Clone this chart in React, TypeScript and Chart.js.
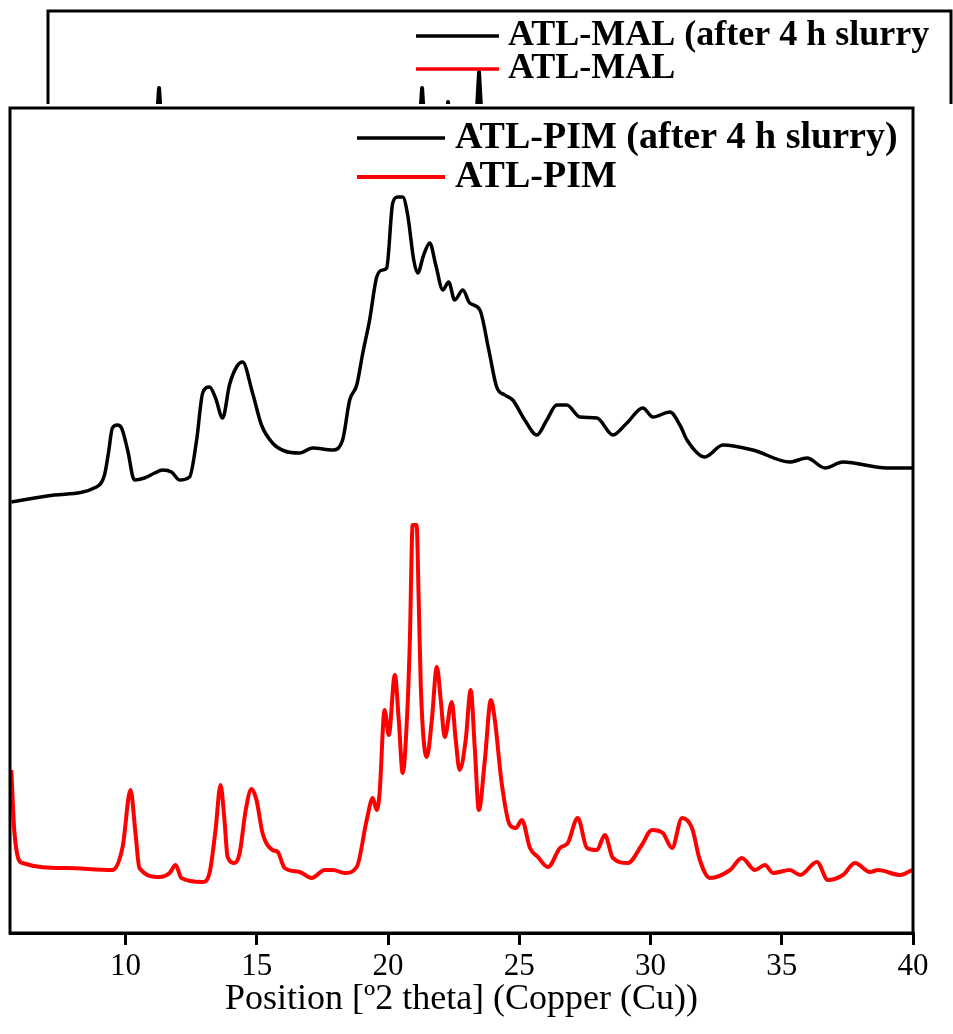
import React, { useEffect, useRef } from "react";
import { Chart, registerables } from "chart.js";

Chart.register(...registerables);

const SERIF = '"Liberation Serif", "Times New Roman", serif';

// x axis (2 theta, degrees)
const X_MIN = 5.6;
const X_MAX = 40;
const TICK_VALUES = [10, 15, 20, 25, 30, 35, 40];
const X_TITLE = "Position [º2 theta] (Copper (Cu))";

// Front panel: ATL-PIM (after 4 h slurry)
const PIM_SLURRY_THETA = [
  5.65, 7.29, 8.89, 9.2, 9.35, 9.5, 9.69, 9.85, 10.08, 10.34,
  10.72, 11.11, 11.41, 11.75, 12.06, 12.44, 12.71, 12.94, 13.2, 13.43,
  13.7, 13.96, 14.23, 14.46, 14.84, 15.18, 15.6, 16.06, 16.63, 17.13,
  17.89, 18.27, 18.54, 18.81, 19.04, 19.3, 19.57, 19.8, 19.95, 20.18,
  20.37, 20.56, 20.75, 20.98, 21.13, 21.36, 21.59, 21.82, 22.09, 22.31,
  22.54, 22.85, 23.11, 23.5, 23.84, 24.14, 24.45, 24.75, 25.21, 25.67,
  26.05, 26.43, 26.81, 27.31, 27.96, 28.57, 29.1, 29.71, 30.09, 30.74,
  31.12, 31.39, 32.07, 32.76, 33.9, 35.31, 35.96, 36.65, 37.33, 39.01,
  40.0,
];
const PIM_SLURRY_INTENSITY = [
  431, 438, 446, 458, 480, 505, 508, 505, 483, 453,
  455, 460, 463, 461, 453, 456, 493, 540, 546, 535,
  515, 548, 566, 571, 540, 508, 490, 482, 480, 485,
  483, 493, 533, 548, 580, 613, 656, 663, 665, 730,
  736, 736, 718, 673, 660, 678, 690, 668, 643, 651,
  633, 643, 630, 623, 583, 546, 538, 533, 513, 498,
  513, 528, 528, 516, 515, 498, 510, 525, 516, 521,
  508, 493, 476, 488, 483, 471, 475, 465, 471, 465,
  465,
];

// Front panel: ATL-PIM
const PIM_THETA = [
  5.65, 5.77, 6.07, 7.75, 9.5, 9.89, 10.19, 10.38, 10.53, 11.3,
  11.68, 11.91, 12.13, 12.94, 13.2, 13.43, 13.62, 13.77, 13.89, 14.16,
  14.35, 14.58, 14.8, 14.99, 15.22, 15.6, 15.8, 16.06, 16.63, 17.09,
  17.59, 17.9, 18.35, 18.81, 19.19, 19.42, 19.57, 19.68, 19.87, 20.03,
  20.26, 20.41, 20.56, 20.72, 20.83, 20.94, 21.09, 21.17, 21.25, 21.48,
  21.67, 21.86, 22.01, 22.16, 22.43, 22.58, 22.73, 22.96, 23.15, 23.31,
  23.46, 23.69, 23.92, 24.07, 24.33, 24.64, 24.87, 25.1, 25.41, 25.71,
  26.09, 26.55, 26.85, 27.23, 27.58, 27.96, 28.26, 28.57, 29.14, 29.67,
  30.05, 30.47, 30.82, 31.2, 31.58, 31.88, 32.26, 33.03, 33.48, 33.98,
  34.36, 34.67, 35.31, 35.7, 36.34, 36.76, 37.33, 37.79, 38.36, 38.67,
  39.51, 39.97,
];
const PIM_INTENSITY = [
  163, 100, 70, 65, 63, 86, 143, 100, 65, 56,
  60, 68, 55, 51, 60, 103, 148, 113, 76, 70,
  80, 123, 144, 133, 100, 83, 81, 65, 61, 55,
  63, 63, 60, 66, 113, 135, 123, 140, 223, 198,
  258, 213, 160, 213, 290, 408, 408, 333, 246, 176,
  213, 266, 233, 196, 231, 193, 163, 193, 243, 183,
  123, 173, 233, 213, 150, 108, 105, 113, 85, 76,
  66, 85, 90, 115, 85, 83, 98, 75, 70, 88,
  103, 100, 85, 115, 105, 73, 55, 63, 75, 63,
  68, 60, 63, 58, 71, 53, 58, 70, 61, 63,
  58, 63,
];

// Back panel (mostly hidden): ATL-MAL (after 4 h slurry)
const MAL_SLURRY_THETA = [
  5.6, 9.6, 9.75, 9.83, 9.91, 10.1, 19.6, 19.77, 19.85, 19.93,
  20.1, 20.7, 20.84, 20.98, 21.8, 21.94, 22.02, 22.1, 22.3, 40,
];
const MAL_SLURRY_INTENSITY = [
  300, 330, 470, 502, 470, 330, 400, 470, 502, 470,
  420, 440, 488, 440, 430, 480, 518, 480, 420, 300,
];
// Back panel (hidden): ATL-MAL
const MAL_THETA = [5.6, 40];
const MAL_INTENSITY = [100, 100];

const pts = (xs: number[], ys: number[]) => xs.map((x, i) => ({ x, y: ys[i] }));

const framePlugin = {
  id: "frame",
  afterDatasetsDraw(chart: any, _args: any, opts: any) {
    const { ctx, chartArea: a } = chart;
    ctx.save();
    ctx.strokeStyle = "#000";
    ctx.lineWidth = opts.width ?? 3;
    ctx.strokeRect(a.left, a.top, a.right - a.left, a.bottom - a.top);
    ctx.restore();
  },
};

const lineLegendPlugin = {
  id: "lineLegend",
  afterDraw(chart: any, _args: any, opts: any) {
    const { ctx, chartArea: a } = chart;
    ctx.save();
    ctx.font = `bold ${opts.size}px ${SERIF}`;
    ctx.textBaseline = "middle";
    ctx.textAlign = "left";
    chart.data.datasets.forEach((ds: any, i: number) => {
      const y = a.top + opts.top + i * opts.rowHeight;
      const x = a.left + opts.left;
      ctx.strokeStyle = ds.borderColor;
      ctx.lineWidth = opts.lineWidth ?? ds.borderWidth;
      ctx.beginPath();
      ctx.moveTo(x, y);
      ctx.lineTo(x + opts.lineLength, y);
      ctx.stroke();
      ctx.fillStyle = "#000";
      ctx.fillText(ds.label, x + opts.lineLength + opts.gap, y);
    });
    ctx.restore();
  },
};

export default function App() {
  const backRef = useRef<HTMLCanvasElement>(null);
  const mainRef = useRef<HTMLCanvasElement>(null);

  useEffect(() => {
    Chart.defaults.font.family = SERIF;
    const back = new Chart(backRef.current as HTMLCanvasElement, {
      type: "line",
      data: {
        datasets: [
          {
            label: "ATL-MAL (after 4 h slurry",
            data: pts(MAL_SLURRY_THETA, MAL_SLURRY_INTENSITY),
            borderColor: "#000000",
            borderWidth: 4,
            pointRadius: 0,
            tension: 0,
            borderJoinStyle: "round",
          },
          {
            label: "ATL-MAL",
            data: pts(MAL_THETA, MAL_INTENSITY),
            borderColor: "#ff0000",
            borderWidth: 4,
            pointRadius: 0,
          },
        ],
      },
      options: {
        animation: false,
        responsive: false,
        events: [],
        layout: { padding: { left: 48, top: 11, right: 2, bottom: 10 } },
        scales: {
          x: { type: "linear", min: X_MIN, max: X_MAX, display: false },
          y: { min: 0, max: 579, display: false },
        },
        plugins: {
          legend: { display: false },
          tooltip: { enabled: false },
          frame: { width: 3 },
          lineLegend: { left: 368, top: 25, rowHeight: 33, lineLength: 83, gap: 9, size: 36, lineWidth: 3.5 },
        } as any,
      },
      plugins: [framePlugin, lineLegendPlugin],
    });

    const main = new Chart(mainRef.current as HTMLCanvasElement, {
      type: "line",
      data: {
        datasets: [
          {
            label: "ATL-PIM (after 4 h slurry)",
            data: pts(PIM_SLURRY_THETA, PIM_SLURRY_INTENSITY),
            borderColor: "#000000",
            borderWidth: 3.5,
            pointRadius: 0,
            cubicInterpolationMode: "monotone",
          },
          {
            label: "ATL-PIM",
            data: pts(PIM_THETA, PIM_INTENSITY),
            borderColor: "#ff0000",
            borderWidth: 4,
            pointRadius: 0,
            cubicInterpolationMode: "monotone",
          },
        ],
      },
      options: {
        animation: false,
        responsive: false,
        events: [],
        layout: { padding: { left: 10, top: 4, right: 40, bottom: 0 } },
        scales: {
          x: {
            type: "linear",
            min: X_MIN,
            max: X_MAX,
            afterBuildTicks: (s: any) => {
              s.ticks = TICK_VALUES.map((v) => ({ value: v }));
            },
            afterFit: (s: any) => {
              s.height = 101;
            },
            grid: {
              display: true,
              drawOnChartArea: false,
              drawTicks: true,
              tickLength: 12,
              lineWidth: 3,
              color: "#000",
              tickWidth: 3,
              tickColor: "#000",
            },
            border: { display: true, color: "#000", width: 3 },
            ticks: {
              color: "#000",
              font: { family: SERIF, size: 31 },
              padding: 3,
              maxRotation: 0,
              autoSkip: false,
            },
            title: {
              display: true,
              text: X_TITLE,
              color: "#000",
              font: { family: SERIF, size: 36 },
              padding: { top: 0, bottom: 13 },
            },
          },
          y: { min: 0, max: 825, display: false },
        },
        plugins: {
          legend: { display: false },
          tooltip: { enabled: false },
          frame: { width: 3 },
          lineLegend: { left: 347, top: 30, rowHeight: 39, lineLength: 88, gap: 10, size: 38 },
        } as any,
      },
      plugins: [framePlugin, lineLegendPlugin],
    });

    return () => {
      back.destroy();
      main.destroy();
    };
  }, []);

  return (
    <div
      style={{
        position: "fixed",
        left: 0,
        top: 0,
        width: 953,
        height: 1034,
        overflow: "hidden",
        background: "#fff",
      }}
    >
      <canvas
        ref={backRef}
        width={953}
        height={600}
        style={{ position: "absolute", left: 0, top: 0, width: 953, height: 600 }}
      />
      <canvas
        ref={mainRef}
        width={953}
        height={930}
        style={{ position: "absolute", left: 0, top: 104, width: 953, height: 930, background: "#fff" }}
      />
    </div>
  );
}
